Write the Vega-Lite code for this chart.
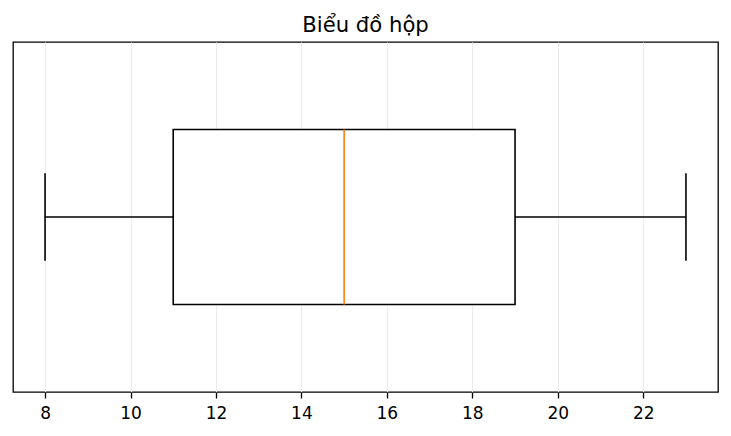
{
  "$schema": "https://vega.github.io/schema/vega-lite/v6.json",
  "autosize": "none",
  "width": 705,
  "height": 350,
  "padding": {"left": 13, "top": 42, "right": 13, "bottom": 44},
  "background": "white",
  "title": {"text": "Biểu đồ hộp", "font": "DejaVu Sans", "fontSize": 21.2, "fontWeight": "normal", "color": "black", "offset": 6},
  "config": {"view": {"stroke": "black", "strokeWidth": 1.3}},
  "data": {"values": [{"min": 8, "q1": 11, "median": 15, "q3": 19, "max": 23}]},
  "layer": [
    {
      "mark": {"type": "rule", "color": "black", "strokeWidth": 1.6},
      "encoding": {
        "x": {"field": "min", "type": "quantitative", "scale": {"domain": [7.25, 23.75], "nice": false, "zero": false},
          "axis": {"values": [8, 10, 12, 14, 16, 18, 20, 22], "grid": true, "gridColor": "#ebebeb", "gridWidth": 1, "domain": false, "tickColor": "black", "tickSize": 6, "tickWidth": 1.3, "labelFont": "DejaVu Sans", "labelFontSize": 17, "labelColor": "black", "labelPadding": 7, "title": null}},
        "x2": {"field": "q1"},
        "y": {"datum": 1, "type": "quantitative", "scale": {"domain": [0.5, 1.5], "nice": false, "zero": false}, "axis": null}
      }
    },
    {
      "mark": {"type": "rule", "color": "black", "strokeWidth": 1.6},
      "encoding": {"x": {"field": "q3", "type": "quantitative"}, "x2": {"field": "max"}, "y": {"datum": 1, "type": "quantitative"}}
    },
    {
      "mark": {"type": "rule", "color": "black", "strokeWidth": 1.6},
      "encoding": {"x": {"field": "min", "type": "quantitative"}, "y": {"datum": 0.875, "type": "quantitative"}, "y2": {"datum": 1.125}}
    },
    {
      "mark": {"type": "rule", "color": "black", "strokeWidth": 1.6},
      "encoding": {"x": {"field": "max", "type": "quantitative"}, "y": {"datum": 0.875, "type": "quantitative"}, "y2": {"datum": 1.125}}
    },
    {
      "mark": {"type": "rect", "fill": "white", "stroke": "black", "strokeWidth": 1.6},
      "encoding": {"x": {"field": "q1", "type": "quantitative"}, "x2": {"field": "q3"}, "y": {"datum": 0.75, "type": "quantitative"}, "y2": {"datum": 1.25}}
    },
    {
      "mark": {"type": "rule", "color": "#ff7f0e", "strokeWidth": 1.6},
      "encoding": {"x": {"field": "median", "type": "quantitative"}, "y": {"datum": 0.75, "type": "quantitative"}, "y2": {"datum": 1.25}}
    }
  ]
}
